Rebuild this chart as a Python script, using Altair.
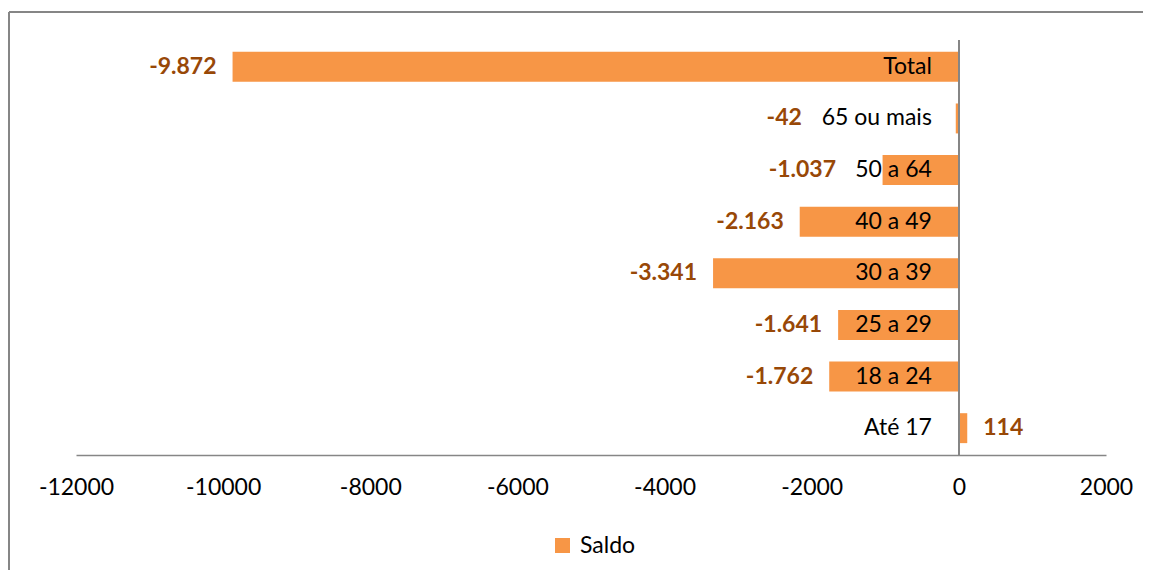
import altair as alt
import pandas as pd

categories = ["Total", "65 ou mais", "50 a 64", "40 a 49", "30 a 39", "25 a 29", "18 a 24", "Até 17"]
saldo = [-9872, -42, -1037, -2163, -3341, -1641, -1762, 114]
series_name = "Saldo"
x_ticks = [-12000, -10000, -8000, -6000, -4000, -2000, 0, 2000]

df = pd.DataFrame({"cat": categories, "v": saldo, "serie": [series_name] * len(categories)})

W, H = 1030, 415
K = W / 14000.0  # px per unit
FONT = "Lato"
BAR = "#F79646"
LBL = "#984807"
GRID = "#868686"

xscale = alt.Scale(domain=[-12000, 2000], nice=False, zero=False)
yenc = alt.Y("cat:N", sort=categories, axis=None,
             scale=alt.Scale(paddingInner=0.42, paddingOuter=0.23))

base = alt.Chart(df)

bars = base.mark_bar().encode(
    x=alt.X("v:Q", scale=xscale,
            axis=alt.Axis(values=x_ticks, labelExpr="'' + datum.value", title=None,
                          ticks=False, tickSize=0, grid=False, domainColor=GRID,
                          domainWidth=1.5, labelFont=FONT, labelFontSize=23,
                          labelColor="#000000", labelPadding=21, labelFlush=False,
                          labelOverlap=False, labelBound=False)),
    y=yenc,
    color=alt.Color("serie:N", scale=alt.Scale(range=[BAR]),
                    legend=alt.Legend(title=None, orient="none", legendX=475, legendY=494,
                                      symbolType="square", symbolSize=225,
                                      symbolStrokeWidth=0, labelFont=FONT,
                                      labelFontSize=23, labelColor="#000000",
                                      labelOffset=6)),
)

zero_rule = base.mark_rule(color=GRID, strokeWidth=1.5).encode(
    x=alt.datum(0, scale=xscale), y=alt.value(0), y2=alt.value(H)
)

cat_text = base.mark_text(align="right", baseline="middle", dx=-27, font=FONT,
                          fontSize=23, color="#000000").encode(
    x=alt.datum(0, scale=xscale), y=yenc, text="cat:N"
)

lab = base.transform_calculate(
    lab="(datum.v < 0 ? '-' : '') + replace(format(abs(datum.v), ','), ',', '.')",
    anchor=f"datum.v < 0 ? min(datum.v * {K}, -(27 + 11.4 * length(datum.cat))) / {K} : datum.v",
)

neg_text = lab.transform_filter("datum.v < 0").mark_text(
    align="right", baseline="middle", dx=-16, font=FONT, fontSize=23,
    fontWeight="bold", color=LBL).encode(
    x=alt.X("anchor:Q", scale=xscale), y=yenc, text="lab:N")

pos_text = lab.transform_filter("datum.v >= 0").mark_text(
    align="left", baseline="middle", dx=16, font=FONT, fontSize=23,
    fontWeight="bold", color=LBL).encode(
    x=alt.X("anchor:Q", scale=xscale), y=yenc, text="lab:N")

frame_left = base.mark_rule(color=GRID, strokeWidth=2).encode(
    x=alt.value(-67), y=alt.value(-28), y2=alt.value(540))
frame_top = base.mark_rule(color=GRID, strokeWidth=2).encode(
    x=alt.value(-67), x2=alt.value(1067), y=alt.value(-28))

chart = alt.layer(bars, zero_rule, cat_text, neg_text, pos_text, frame_left, frame_top).properties(
    width=W, height=H,
    autosize=alt.AutoSizeParams(type="none"),
    padding={"left": 68, "top": 32, "right": 37, "bottom": 115},
).configure_view(stroke=None)

chart.save("out.html", embed_options={"renderer": "svg", "actions": False})
